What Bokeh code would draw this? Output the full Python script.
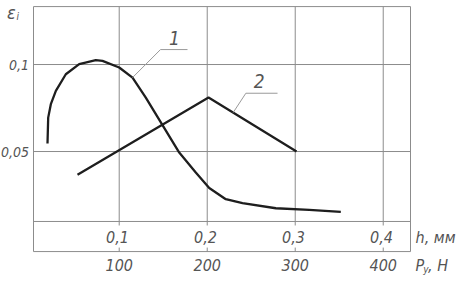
from bokeh.plotting import figure
from bokeh.models import Label
from bokeh.embed import file_html
from bokeh.resources import INLINE

# ---- data ----
h_ticks = [0.1, 0.2, 0.3, 0.4]
h_labels = ["0,1", "0,2", "0,3", "0,4"]
p_labels = ["100", "200", "300", "400"]
eps_ticks = [0.05, 0.1]
eps_labels = ["0,05", "0,1"]

curve1_h = [0.0185, 0.0193, 0.0223, 0.0280, 0.0393, 0.0545, 0.0734, 0.0810, 0.1000,
            0.1151, 0.1302, 0.1473, 0.1682, 0.1870, 0.2023, 0.2211, 0.2401, 0.2780,
            0.3159, 0.3518]
curve1_eps = [0.0546, 0.0695, 0.0772, 0.0849, 0.0944, 0.1002, 0.1025, 0.1021, 0.0983,
              0.0925, 0.0810, 0.0667, 0.0494, 0.0379, 0.0290, 0.0226, 0.0203, 0.0174,
              0.0165, 0.0153]
curve2_h = [0.0526, 0.2015, 0.3015]
curve2_eps = [0.0366, 0.0810, 0.0500]

# leader lines for curve labels
leader1_h = [0.1151, 0.1469, 0.1776]
leader1_eps = [0.0925, 0.1086, 0.1086]
leader2_h = [0.2295, 0.2439, 0.2799]
leader2_eps = [0.0724, 0.0835, 0.0835]

# ---- layout constants ----
VX0, VX1 = -0.0349, 0.4844      # visible range (whole canvas)
VY0, VY1 = -0.0247, 0.1368
BX0, BX1 = 0.0026, 0.431        # drawn box
BY0, BY1 = -0.0075, 0.1333
BAND = 0.0098                   # line separating the h-label band
TXT = "#555555"
GRID = "#8c8c8c"
FONT = "'Liberation Sans Narrow', 'DejaVu Sans Condensed', sans-serif"

p = figure(width=457, height=281, x_range=(VX0, VX1), y_range=(VY0, VY1),
           x_axis_type=None, y_axis_type=None,
           output_backend="svg", toolbar_location=None,
           min_border=0)
p.outline_line_color = None
p.background_fill_color = "white"
p.border_fill_color = "white"

# box
p.quad(left=[BX0], right=[BX1], bottom=[BY0], top=[BY1],
       fill_color=None, line_color=GRID, line_width=1)

# grid lines
p.segment(x0=h_ticks, x1=h_ticks, y0=[BAND - 0.0023] * 4, y1=[BY1] * 4,
          line_color=GRID, line_width=1)
p.segment(x0=h_ticks, x1=h_ticks, y0=[BY0] * 4, y1=[BY0 + 0.0023] * 4,
          line_color=GRID, line_width=1)
p.segment(x0=[BX0] * 3, x1=[BX1] * 3, y0=eps_ticks + [BAND], y1=eps_ticks + [BAND],
          line_color=GRID, line_width=1)

# curves
p.line(curve1_h, curve1_eps, line_color="#1e1e1e", line_width=2.3, line_join="round")
p.line(curve2_h, curve2_eps, line_color="#1e1e1e", line_width=2.3, line_join="round")
p.line(leader1_h, leader1_eps, line_color="#9a9a9a", line_width=1)
p.line(leader2_h, leader2_eps, line_color="#9a9a9a", line_width=1)


def lab(x, y, text, size=17, align="center", baseline="middle"):
    p.add_layout(Label(x=x, y=y, text=text, text_font=FONT, text_font_size=f"{size}px",
                       text_font_style="italic", text_color=TXT,
                       text_align=align, text_baseline=baseline))


# y tick labels
for e, t in zip(eps_ticks, eps_labels):
    lab(-0.0025, e, t, size=14, align="right")
# y axis title
lab(-0.0225, 0.1300, "ε", size=18)
lab(-0.0152, 0.1278, "i", size=10)

# h and P tick labels
for hx, ht, pt in zip(h_ticks, h_labels, p_labels):
    lab(hx - 0.002, 0.0006, ht, size=16)
    lab(hx, -0.0155, pt, size=16)

# axis unit labels
lab(0.4367, 0.0006, "h, мм", size=16, align="left")
lab(0.4367, -0.0155, "P", size=16, align="left")
lab(0.4455, -0.0178, "y", size=10, align="left")
lab(0.4510, -0.0155, ", Н", size=16, align="left")

# curve labels
lab(0.1628, 0.1150, "1", size=19)
lab(0.2591, 0.0906, "2", size=19)

open("out.html", "w").write(file_html(p, INLINE))
